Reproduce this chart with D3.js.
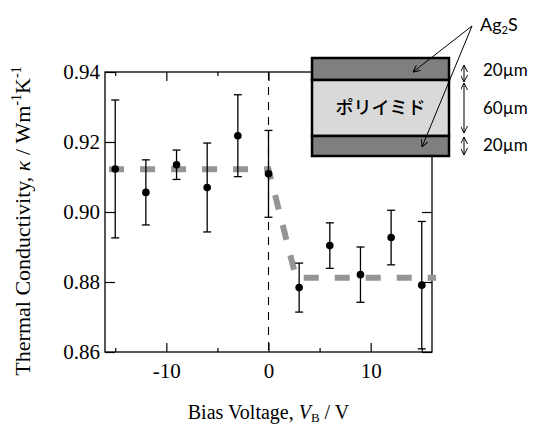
<!DOCTYPE html>
<html>
<head>
<meta charset="utf-8">
<script src="https://cdn.jsdelivr.net/npm/d3@7"></script>
<style>
  body { margin: 0; background: #fff; }
  .axis text { font-family: "Liberation Serif", serif; font-size: 21px; fill: #000; }
  .axis path { display: none; }
  .axis line { stroke: #000; stroke-width: 1.2; }
</style>
</head>
<body>
<div id="graph"></div>
<script>
// measured points
const voltage = [-15, -12, -9, -6, -3, 0, 3, 6, 9, 12, 15];
const kappa = [0.9123, 0.9056, 0.9135, 0.9070, 0.9218, 0.9109, 0.8784, 0.8904, 0.8821, 0.8927, 0.8791];
const kappaErr = [0.0197, 0.0093, 0.0042, 0.0127, 0.0117, 0.0124, 0.0070, 0.0065, 0.0079, 0.0078, 0.0182];

// gray guide line
const fitVoltage = [-15.6, 0, 2.7, 16.4];
const fitKappa = [0.9122, 0.9122, 0.8812, 0.8812];

const xMajorTicks = [-10, 0, 10];
const xMinorTicks = [-15, -5, 5, 15];
const yTicks = [0.86, 0.88, 0.90, 0.92, 0.94];

const layerThickness = ['20µm', '60µm', '20µm'];

const W = 533;
const H = 426;
const margin = { top: 72, right: 101, bottom: 74, left: 105 };
const width = W - margin.left - margin.right;
const height = H - margin.top - margin.bottom;

const svg = d3.select('#graph')
  .append('svg')
  .attr('width', W)
  .attr('height', H);

const g = svg.append('g')
  .attr('transform', `translate(${margin.left},${margin.top})`);

const xScale = d3.scaleLinear().domain([-16, 16]).range([0, width]);
const yScale = d3.scaleLinear().domain([0.86, 0.94]).range([height, 0]);

// axes, ticks pointing inward on all four sides
g.append('g')
  .attr('class', 'axis')
  .attr('transform', `translate(0,${height})`)
  .call(d3.axisBottom(xScale).tickValues(xMajorTicks).tickSizeInner(-9).tickSizeOuter(0)
    .tickPadding(11).tickFormat((d) => String(d)));
g.append('g')
  .attr('class', 'axis')
  .attr('transform', `translate(0,${height})`)
  .call(d3.axisBottom(xScale).tickValues(xMinorTicks).tickSizeInner(-4).tickSizeOuter(0).tickFormat(''));
g.append('g')
  .attr('class', 'axis')
  .call(d3.axisTop(xScale).tickValues(xMajorTicks).tickSizeInner(-9).tickSizeOuter(0).tickFormat(''));
g.append('g')
  .attr('class', 'axis')
  .call(d3.axisTop(xScale).tickValues(xMinorTicks).tickSizeInner(-4).tickSizeOuter(0).tickFormat(''));
g.append('g')
  .attr('class', 'axis')
  .call(d3.axisLeft(yScale).tickValues(yTicks).tickSizeInner(-10).tickSizeOuter(0)
    .tickPadding(5).tickFormat(d3.format('.2f')));
g.append('g')
  .attr('class', 'axis')
  .attr('transform', `translate(${width},0)`)
  .call(d3.axisRight(yScale).tickValues(yTicks).tickSizeInner(-10).tickSizeOuter(0).tickFormat(''));

g.append('rect')
  .attr('width', width)
  .attr('height', height)
  .attr('fill', 'none')
  .attr('stroke', '#000')
  .attr('stroke-width', 1.3);

// zero bias marker
g.append('line')
  .attr('x1', xScale(0))
  .attr('x2', xScale(0))
  .attr('y1', 0)
  .attr('y2', height)
  .attr('stroke', '#000')
  .attr('stroke-width', 1.1)
  .attr('stroke-dasharray', '8,7');

const fitLine = d3.line()
  .x((d, i) => xScale(fitVoltage[i]))
  .y((d) => yScale(d));

g.append('path')
  .datum(fitKappa)
  .attr('d', fitLine)
  .attr('fill', 'none')
  .attr('stroke', '#959595')
  .attr('stroke-width', 6)
  .attr('stroke-dasharray', '15,16');

const points = voltage.map((v, i) => ({ v, k: kappa[i], e: kappaErr[i] }));

const bars = g.selectAll('.err')
  .data(points)
  .enter()
  .append('g')
  .attr('class', 'err')
  .attr('stroke', '#000')
  .attr('stroke-width', 1.3);

bars.append('line')
  .attr('x1', (d) => xScale(d.v))
  .attr('x2', (d) => xScale(d.v))
  .attr('y1', (d) => yScale(d.k + d.e))
  .attr('y2', (d) => yScale(d.k - d.e));
bars.append('line')
  .attr('x1', (d) => xScale(d.v) - 4)
  .attr('x2', (d) => xScale(d.v) + 4)
  .attr('y1', (d) => yScale(d.k + d.e))
  .attr('y2', (d) => yScale(d.k + d.e));
bars.append('line')
  .attr('x1', (d) => xScale(d.v) - 4)
  .attr('x2', (d) => xScale(d.v) + 4)
  .attr('y1', (d) => yScale(d.k - d.e))
  .attr('y2', (d) => yScale(d.k - d.e));

g.selectAll('.dot')
  .data(points)
  .enter()
  .append('circle')
  .attr('class', 'dot')
  .attr('cx', (d) => xScale(d.v))
  .attr('cy', (d) => yScale(d.k))
  .attr('r', 3.8)
  .attr('fill', '#000');

// axis titles
const yTitle = svg.append('text')
  .attr('transform', `translate(30,${margin.top + height / 2 + 9}) rotate(-90)`)
  .attr('text-anchor', 'middle')
  .style('font-family', '"Liberation Serif", serif')
  .style('font-size', '22px');
yTitle.append('tspan').text('Thermal Conductivity, ');
yTitle.append('tspan').style('font-style', 'italic').text('κ');
yTitle.append('tspan').text(' / Wm');
yTitle.append('tspan').attr('dy', -9).style('font-size', '14px').text('-1');
yTitle.append('tspan').attr('dy', 9).text('K');
yTitle.append('tspan').attr('dy', -9).style('font-size', '14px').text('-1');

const xTitle = svg.append('text')
  .attr('x', margin.left + width / 2)
  .attr('y', 419)
  .attr('text-anchor', 'middle')
  .style('font-family', '"Liberation Serif", serif')
  .style('font-size', '20px');
xTitle.append('tspan').text('Bias Voltage, ');
xTitle.append('tspan').style('font-style', 'italic').text('V');
xTitle.append('tspan').attr('dy', 3).style('font-size', '13px').text('B');
xTitle.append('tspan').attr('dy', -3).text(' / V');

// inset: sample cross-section
const inset = svg.append('g');
const box = { x: 312, y: 58, w: 137, h: 98 };
const layerY = [box.y, 80, 136, box.y + box.h];
const layerFill = ['#7f7f7f', '#d9d9d9', '#7f7f7f'];

layerFill.forEach((c, i) => {
  inset.append('rect')
    .attr('x', box.x)
    .attr('y', layerY[i])
    .attr('width', box.w)
    .attr('height', layerY[i + 1] - layerY[i])
    .attr('fill', c)
    .attr('stroke', '#000')
    .attr('stroke-width', 2.5);
});

inset.append('text')
  .attr('x', box.x + box.w / 2)
  .attr('y', 108)
  .attr('dy', '0.35em')
  .attr('text-anchor', 'middle')
  .style('font-family', '"Noto Sans CJK JP", sans-serif')
  .style('font-weight', '500')
  .style('font-size', '18px')
  .text('ポリイミド');

const defs = svg.append('defs');
defs.append('marker')
  .attr('id', 'head')
  .attr('viewBox', '0 0 10 10')
  .attr('refX', 10)
  .attr('refY', 5)
  .attr('markerWidth', 7)
  .attr('markerHeight', 7)
  .attr('markerUnits', 'userSpaceOnUse')
  .attr('orient', 'auto-start-reverse')
  .append('path')
  .attr('d', 'M0,0 L10,5 L0,10')
  .attr('fill', 'none')
  .attr('stroke', '#000')
  .attr('stroke-width', 1.4);

const agText = inset.append('text')
  .attr('x', 480)
  .attr('y', 31)
  .style('font-family', 'Lato, sans-serif')
  .style('font-size', '18px');
agText.append('tspan').text('Ag');
agText.append('tspan').attr('dy', 3).style('font-size', '11px').text('2');
agText.append('tspan').attr('dy', -3).text('S');

[[413, 72], [422, 147]].forEach(([tx, ty]) => {
  inset.append('line')
    .attr('x1', 472)
    .attr('y1', 26)
    .attr('x2', tx)
    .attr('y2', ty)
    .attr('stroke', '#000')
    .attr('stroke-width', 1)
    .attr('marker-end', 'url(#head)');
});

const dimY = [[65, 82], [83, 133], [137, 155]];
const dimLabelY = [70, 108, 145];
dimY.forEach(([y1, y2], i) => {
  inset.append('line')
    .attr('x1', 464)
    .attr('x2', 464)
    .attr('y1', y1)
    .attr('y2', y2)
    .attr('stroke', '#000')
    .attr('stroke-width', 1)
    .attr('marker-start', 'url(#head)')
    .attr('marker-end', 'url(#head)');
  inset.append('text')
    .attr('x', 483)
    .attr('y', dimLabelY[i])
    .attr('dy', '0.35em')
    .style('font-family', 'Lato, sans-serif')
    .style('font-size', '17px')
    .text(layerThickness[i]);
});
</script>
</body>
</html>
